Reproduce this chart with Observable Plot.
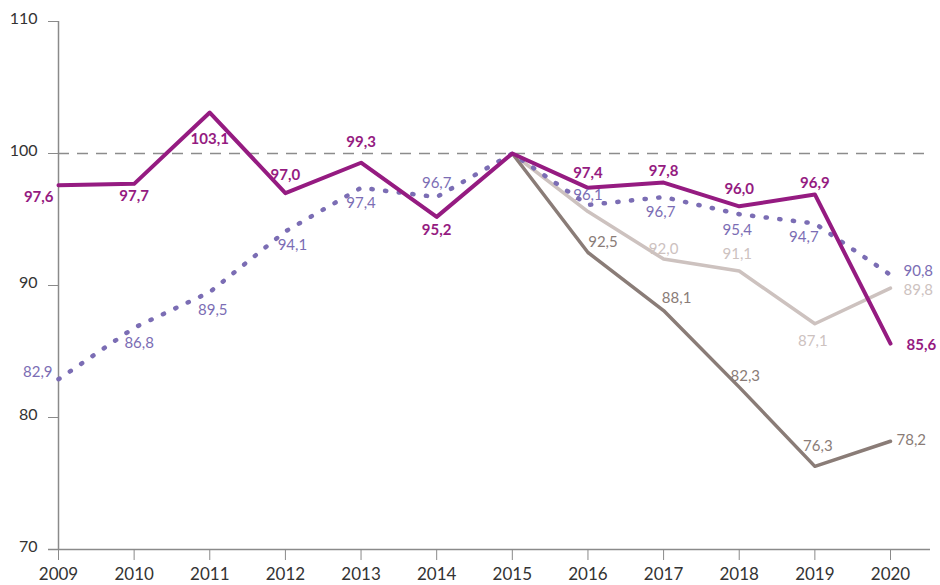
<!DOCTYPE html>
<html>
<head>
<meta charset="utf-8">
<script src="https://cdn.jsdelivr.net/npm/d3@7"></script>
<script src="https://cdn.jsdelivr.net/npm/@observablehq/plot@0.6"></script>
<style>
  html, body { margin: 0; padding: 0; background: #fff; }
  svg { display: block; }
</style>
</head>
<body>
<div id="chart"></div>
<script>
// ---- data ----
const years = [2009, 2010, 2011, 2012, 2013, 2014, 2015, 2016, 2017, 2018, 2019, 2020];
const purpleSeries = [97.6, 97.7, 103.1, 97.0, 99.3, 95.2, 100, 97.4, 97.8, 96.0, 96.9, 85.6];
const blueSeries   = [82.9, 86.8, 89.5, 94.1, 97.4, 96.7, 100, 96.1, 96.7, 95.4, 94.7, 90.8];
const lightSeries  = [null, null, null, null, null, null, 100, 95.6, 92.0, 91.1, 87.1, 89.8];
const darkSeries   = [null, null, null, null, null, null, 100, 92.5, 88.1, 82.3, 76.3, 78.2];
const yTicks = [70, 80, 90, 100, 110];
const reference = 100;
// which points carry a value label (2015 base and unlabelled points excluded)
const lightLabelled = [false, false, false, false, false, false, false, false, true, true, true, true];

// ---- layout of value labels: [dx, dy, anchor] per year index ----
const M = "middle", S = "start", E = "end";
const labelLayout = {
  purple: [[-5,12,E],[0,12,M],[0,27,M],[0,-18,M],[0,-21,M],[0,13,M],null,[0,-15,M],[0,-11,M],[0,-17,M],[0,-11,M],[16,2,S]],
  blue:   [[-6,-7,E],[5,15,M],[3,18,M],[7,14,M],[0,15,M],[0,-14,M],null,[0,-10,M],[-3,15,M],[-2,16,M],[-11,14,M],[13,-4,S]],
  light:  [null,null,null,null,null,null,null,null,[0,-10,M],[-2,-17,M],[-2,17,M],[13,2,S]],
  dark:   [null,null,null,null,null,null,null,[15,-10,M],[13,-12,M],[6,-11,M],[3,-20,M],[6,-1,S]]
};

const colors = { purple: "#951b81", blue: "#7b6db4", light: "#cdc2bf", dark: "#8a7c77" };
const fontFamily = "Lato, 'Open Sans', sans-serif";

function rows(name, vals) {
  return years.map((y, i) => ({ series: name, year: y, value: vals[i], i }))
              .filter(d => d.value != null);
}
const data = {
  purple: rows("purple", purpleSeries),
  blue: rows("blue", blueSeries),
  light: rows("light", lightSeries),
  dark: rows("dark", darkSeries)
};

const fmt = v => d3.format(".1f")(v).replace(".", ",");

const labelMarks = [];
for (const name of ["light", "dark", "blue", "purple"]) {
  for (const d of data[name]) {
    const lay = labelLayout[name][d.i];
    if (!lay) continue;
    if (name === "light" && !lightLabelled[d.i]) continue;
    labelMarks.push(Plot.text([d], {
      x: "year", y: "value", text: r => fmt(r.value),
      dx: lay[0], dy: lay[1], textAnchor: lay[2],
      fill: colors[name], fontSize: 15,
      fontWeight: name === "purple" ? "bold" : "normal",
      fontFamily
    }));
  }
}

const chart = Plot.plot({
  width: 940,
  height: 585,
  marginLeft: 58,
  marginRight: 50,
  marginTop: 21,
  marginBottom: 36,
  style: { fontFamily, background: "#fff" },
  x: { type: "linear", domain: [years[0], years[years.length - 1]] },
  y: { domain: [yTicks[0], yTicks[yTicks.length - 1]] },
  marks: [
    Plot.ruleY([reference], { stroke: "#8c8c8c", strokeWidth: 1.5, strokeDasharray: "11,8", insetRight: -38 }),
    Plot.ruleX([years[0]], { y1: yTicks[0], y2: yTicks[yTicks.length - 1], stroke: "#8a8a8a", strokeWidth: 1.5 }),
    Plot.ruleY([yTicks[0]], { stroke: "#8a8a8a", strokeWidth: 1.5, insetLeft: -10, insetRight: -40 }),
    // y tick marks
    Plot.axisY({ ticks: yTicks, tickSize: 10, tickFormat: () => "", stroke: "#8a8a8a", label: null }),
    // y tick labels (slightly raised, as in the reference)
    Plot.axisY({ ticks: yTicks, tickSize: 0, tickPadding: 21, tickFormat: d => String(d),
      fontSize: 16, dy: -3, fill: "#333", label: null }),
    Plot.axisX({ ticks: years, tickSize: 11, tickPadding: 7, tickFormat: d => String(d),
      fontSize: 17, stroke: "#8a8a8a", fill: "#333", label: null }),
    Plot.line(data.light, { x: "year", y: "value", stroke: colors.light, strokeWidth: 3.5 }),
    Plot.line(data.dark, { x: "year", y: "value", stroke: colors.dark, strokeWidth: 3.5 }),
    Plot.line(data.blue, { x: "year", y: "value", stroke: colors.blue, strokeWidth: 4.5,
      strokeDasharray: "1.2,12.5", strokeLinecap: "round" }),
    Plot.line(data.purple, { x: "year", y: "value", stroke: colors.purple, strokeWidth: 4 }),
    ...labelMarks
  ]
});
document.getElementById("chart").appendChild(chart);
</script>
</body>
</html>
